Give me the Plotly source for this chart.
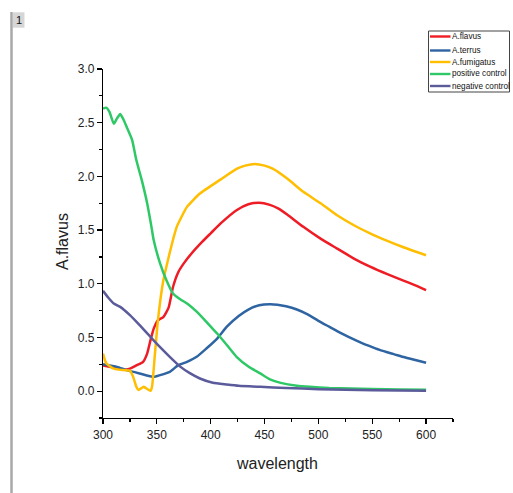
import plotly.graph_objects as go

# ---------------- data ----------------
flavus_wl = [300, 305, 310, 315, 320, 325, 331, 337, 341, 344, 347, 351, 356, 361, 365, 370,
             375, 382, 392, 400, 409, 424, 435, 445, 455, 463, 471, 486, 502, 517, 533, 548,
             564, 579, 590, 600]
flavus_abs = [0.24, 0.23, 0.22, 0.21, 0.20, 0.21, 0.24, 0.27, 0.35, 0.47, 0.58, 0.66, 0.69,
              0.78, 0.97, 1.11, 1.19, 1.28, 1.39, 1.47, 1.56, 1.685, 1.74, 1.755, 1.735,
              1.70, 1.645, 1.53, 1.42, 1.33, 1.235, 1.16, 1.09, 1.03, 0.985, 0.94]

terrus_wl = [300, 313, 322, 334, 347, 353, 362, 370, 378, 387, 396, 406, 415, 426, 435, 445,
             455, 462, 470, 480, 490, 500, 510, 520, 527, 540, 550, 558, 570, 580, 590, 600]
terrus_abs = [0.25, 0.226, 0.196, 0.165, 0.133, 0.149, 0.18, 0.242, 0.273, 0.32, 0.397, 0.49,
              0.60, 0.70, 0.76, 0.80, 0.81, 0.805, 0.79, 0.76, 0.715, 0.655, 0.60, 0.545,
              0.51, 0.45, 0.41, 0.38, 0.345, 0.315, 0.29, 0.265]

fumigatus_wl = [300, 303, 310, 319, 325, 328, 331, 333, 336, 338, 341, 344, 345.5, 348, 351,
                356, 361, 365, 368.5, 378, 390, 409, 424, 432, 441, 450, 458, 471, 486, 502,
                517, 533, 548, 564, 579, 590, 600]
fumigatus_abs = [0.35, 0.26, 0.21, 0.196, 0.19, 0.133, 0.04, 0.01, 0.03, 0.04, 0.02, 0.003,
                 0.04, 0.32, 0.66, 1.03, 1.25, 1.41, 1.53, 1.716, 1.84, 1.97, 2.07, 2.10,
                 2.115, 2.10, 2.07, 1.98, 1.856, 1.75, 1.64, 1.545, 1.47, 1.40, 1.34, 1.30,
                 1.266]

positive_wl = [300, 303, 306, 310, 313, 316, 319, 322, 327, 331, 336, 341, 345, 347, 353, 359,
               365, 372, 379, 387, 396, 403, 406, 415, 424, 435, 446, 455, 465, 480, 492,
               510, 530, 550, 575, 600]
positive_abs = [2.63, 2.64, 2.60, 2.49, 2.54, 2.58, 2.53, 2.46, 2.34, 2.15, 1.965, 1.75, 1.53,
                1.41, 1.19, 1.03, 0.91, 0.854, 0.81, 0.74, 0.645, 0.568, 0.537, 0.43, 0.32,
                0.23, 0.165, 0.11, 0.077, 0.05, 0.04, 0.03, 0.025, 0.02, 0.015, 0.012]

negative_wl = [300, 305, 310, 316, 325, 334, 344, 353, 362, 372, 381, 390, 402, 415, 426, 446,
               470, 500, 550, 600]
negative_abs = [0.934, 0.87, 0.816, 0.785, 0.708, 0.615, 0.506, 0.41, 0.32, 0.226, 0.165,
                0.118, 0.078, 0.062, 0.05, 0.04, 0.03, 0.018, 0.008, 0.004]

series_names = ["A.flavus", "A.terrus", "A.fumigatus", "positive control", "negative control"]
series_colors = ["#ee1c25", "#2f64a2", "#ffbe00", "#2ec866", "#5b5b9c"]
series_x = [flavus_wl, terrus_wl, fumigatus_wl, positive_wl, negative_wl]
series_y = [flavus_abs, terrus_abs, fumigatus_abs, positive_abs, negative_abs]

x_title = "wavelength"
y_title = "A.flavus"
panel_label = "1"

# ---------------- layout helpers ----------------
W, H = 513, 493
L, R, T, B = 103, 453, 69, 418  # plot area in pixels


def px(xp):
    return (xp - L) / (R - L)


def py(yp):
    return (B - yp) / (B - T)


FONT = "Liberation Sans, Arial, sans-serif"

fig = go.Figure()
for name, col, xs, ys in zip(series_names, series_colors, series_x, series_y):
    fig.add_trace(go.Scatter(x=xs, y=ys, mode="lines", name=name,
                             line=dict(color=col, width=2.5, shape="spline", smoothing=0.5),
                             showlegend=False, hoverinfo="skip"))

axis_common = dict(showline=True, linecolor="black", linewidth=1.2, ticks="outside",
                   ticklen=5, tickwidth=1.2, tickcolor="black", showgrid=False,
                   zeroline=False, mirror=False,
                   tickfont=dict(family=FONT, size=12, color="#222"))

fig.update_xaxes(range=[300, 625], tickmode="array", tickvals=[300, 350, 400, 450, 500, 550, 600],
                 minor=dict(ticks="outside", ticklen=3, tickwidth=1.2, tickcolor="black",
                            tickvals=[325, 375, 425, 475, 525, 575, 625]),
                 **axis_common)
fig.update_yaxes(range=[-0.25, 3.0], tickmode="array",
                 tickvals=[0, 0.5, 1.0, 1.5, 2.0, 2.5, 3.0],
                 ticktext=["0.0", "0.5", "1.0", "1.5", "2.0", "2.5", "3.0"],
                 minor=dict(ticks="outside", ticklen=3, tickwidth=1.2, tickcolor="black",
                            tickvals=[-0.25, 0.25, 0.75, 1.25, 1.75, 2.25, 2.75]),
                 **axis_common)

shapes = []
annotations = []

# left page frame + panel tab
shapes.append(dict(type="line", xref="paper", yref="paper", x0=px(11.5), x1=px(11.5),
                   y0=py(12), y1=py(493), line=dict(color="#a9a9a9", width=2.5)))
shapes.append(dict(type="rect", xref="paper", yref="paper", x0=px(13), x1=px(24.5),
                   y0=py(12.3), y1=py(27.7), fillcolor="#d6d6d6", line=dict(width=0)))
annotations.append(dict(text=panel_label, xref="paper", yref="paper", x=px(18.5), y=py(20),
                        showarrow=False, xanchor="center", yanchor="middle",
                        font=dict(family=FONT, size=11, color="#111")))

# axis titles
annotations.append(dict(text=y_title, xref="paper", yref="paper", x=px(62), y=py(242),
                        showarrow=False, textangle=-90, xanchor="center", yanchor="middle",
                        font=dict(family=FONT, size=16, color="#222")))
annotations.append(dict(text=x_title, xref="paper", yref="paper", x=px(277), y=py(463),
                        showarrow=False, xanchor="center", yanchor="middle",
                        font=dict(family=FONT, size=16, color="#222")))

# legend box
shapes.append(dict(type="rect", xref="paper", yref="paper", x0=px(428.5), x1=px(509.5),
                   y0=py(31), y1=py(92), line=dict(color="#444", width=1),
                   fillcolor="white"))
row_y = [36.5, 50.5, 62, 74, 86]
for name, col, ry in zip(series_names, series_colors, row_y):
    shapes.append(dict(type="line", xref="paper", yref="paper", x0=px(430), x1=px(450.5),
                       y0=py(ry), y1=py(ry), line=dict(color=col, width=2.4)))
    annotations.append(dict(text=name, xref="paper", yref="paper", x=px(450), y=py(ry),
                            showarrow=False, xanchor="left", yanchor="middle",
                            font=dict(family=FONT, size=8.2, color="#111")))

fig.update_layout(width=W, height=H, margin=dict(l=L, r=W - R, t=T, b=H - B),
                  paper_bgcolor="white", plot_bgcolor="white", showlegend=False,
                  hovermode=False, shapes=shapes, annotations=annotations)

fig.write_html("out.html", config={"displayModeBar": False, "staticPlot": True},
               post_script="document.body.style.margin='0';document.body.style.overflow='hidden';")
